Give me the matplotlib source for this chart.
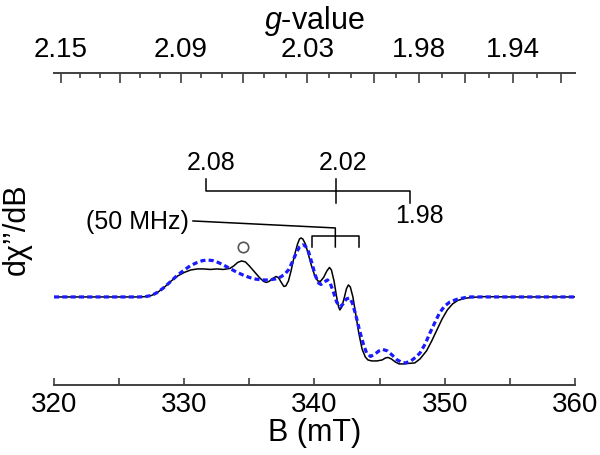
import matplotlib
matplotlib.use('Agg')
import matplotlib.pyplot as plt
from matplotlib.ticker import FixedLocator, NullFormatter

plt.rcParams['font.family'] = ['Liberation Sans', 'DejaVu Sans']
plt.rcParams['mathtext.fontset'] = 'custom'
plt.rcParams['mathtext.it'] = 'Liberation Sans:italic'
plt.rcParams['mathtext.rm'] = 'Liberation Sans'

# experimental spectrum (black) : field in mT, signal in arb. units
b_exp = [320, 323, 326, 326.5, 327, 327.5, 328, 328.5, 329, 329.5, 330, 330.5, 331,
         331.5, 332, 332.5, 333, 333.5, 333.8, 334.1, 334.4, 334.7, 335.0, 335.4, 335.8,
         336.1, 336.3, 336.5, 336.8, 337.05, 337.25, 337.45, 337.65, 337.8, 338.0, 338.2,
         338.45, 338.7, 338.85, 338.96, 339.1, 339.3, 339.5, 339.75, 340.0, 340.25, 340.45,
         340.7, 340.95, 341.15, 341.3, 341.5, 341.7, 341.85, 341.95, 342.1, 342.3, 342.45,
         342.6, 342.75, 342.95, 343.15, 343.4, 343.65, 343.9, 344.1, 344.4, 344.8, 345.2,
         345.45, 345.65, 345.9, 346.2, 346.5, 346.8, 347.2, 347.7, 348.1, 348.6, 349.0,
         349.4, 349.8, 350.2, 350.6, 351.0, 351.5, 352, 353, 355, 357, 360]
s_exp = [0, 0, 0, 0, 0.3, 1.5, 5, 10, 16, 21, 24.5, 27, 28,
         28, 27.5, 28, 27.5, 28.5, 31, 34.5, 36, 35, 31, 25, 19,
         15.5, 14.5, 15.5, 18.5, 20.5, 19, 14.5, 10.5, 11, 16, 26,
         41, 53, 58, 59, 58, 53, 44, 32, 22, 16, 15.5,
         19.5, 26, 29.5, 27, 16, 0, -10, -13, -10, 0, 8,
         12, 10, 0, -16, -36, -52, -60, -63, -64, -64, -63,
         -61, -60.5, -62, -65, -67, -67, -66.5, -66, -62, -54, -44,
         -33, -22, -13, -7, -3.5, -1.5, -0.5, 0.3, 0, 0, 0]

# simulated spectrum (blue dotted)
b_sim = [320, 323, 326, 326.5, 327, 327.5, 328, 328.5, 329, 329.5, 330, 330.5, 331,
         331.4, 331.8, 332.2, 332.6, 333.0, 333.5, 334, 334.5, 335, 335.5, 336, 336.5,
         337, 337.4, 337.7, 338.0, 338.3, 338.6, 338.85, 339.1, 339.3, 339.55, 339.8,
         340.05, 340.3, 340.5, 340.75, 341.0, 341.2, 341.45, 341.7, 341.95, 342.2, 342.45,
         342.7, 342.9, 343.15, 343.45, 343.75, 344.0, 344.3, 344.6, 344.95, 345.25, 345.6,
         345.95, 346.3, 346.7, 347.0, 347.4, 347.8, 348.1, 348.5, 348.9, 349.3, 349.6,
         350.0, 350.4, 350.9, 351.5, 352, 355, 360]
s_sim = [0, 0, 0, 0, 0.3, 1.5, 5, 10, 16, 22, 27, 31.5, 34.5,
         36.3, 37, 36.3, 34.5, 32, 28.5, 25, 22, 19.5, 17.8, 17, 17,
         18, 20, 22.5, 27, 35, 44, 50, 52, 51, 45, 34,
         22, 14, 12.5, 15, 17, 14, 5, -5, -10, -7, -2,
         -1, -6, -17, -33, -47, -56, -59.5, -57.5, -54, -52.5, -54,
         -58, -62.5, -65.5, -66, -64, -60, -56, -47, -35, -24, -16,
         -9, -5, -2.5, -0.8, 0, 0, 0]

# g-value axis
g_major = [2.15, 2.12, 2.09, 2.06, 2.03, 2.00, 1.98, 1.96, 1.94, 1.92]
g_labels = ['2.15', '', '2.09', '', '2.03', '', '1.98', '', '1.94', '']
g_minor = [2.14, 2.13, 2.11, 2.10, 2.08, 2.07, 2.05, 2.04, 2.02, 2.01, 1.99, 1.97, 1.95, 1.93]
K = 689.1   # h*nu/muB in mT

fig = plt.figure(figsize=(6, 4.55), dpi=100)
ax = fig.add_axes([0.09, 0.154, 0.8683, 0.6856])
ax.set_xlim(320, 360)
ax.set_ylim(-88, 224)

ax.plot(b_exp, s_exp, color='black', lw=1.1, zorder=3)
ax.plot(b_sim, s_sim, color='#1a1aff', lw=2.3, ls=(0, (1.6, 1.0)), zorder=4)

AX_C = '#404040'
for side in ('left', 'right', 'top'):
    ax.spines[side].set_visible(False)
ax.spines['bottom'].set_color(AX_C)
ax.spines['bottom'].set_linewidth(1.4)
ax.set_yticks([])
ax.set_xticks([320, 330, 340, 350, 360])
ax.xaxis.set_minor_locator(FixedLocator([325, 335, 345, 355]))
ax.tick_params(axis='x', which='both', direction='in', length=5, width=1.2, color=AX_C,
               labelsize=20, pad=5)
ax.set_xlabel('B (mT)', fontsize=22, labelpad=0)
ax.set_ylabel('dχ’’/dB', fontsize=22, labelpad=16)

sec = ax.secondary_xaxis('top', functions=(lambda b: K / b, lambda g: K / g))
sec.set_xticks(g_major)
sec.set_xticklabels(g_labels)
sec.xaxis.set_minor_locator(FixedLocator(g_minor))
sec.xaxis.set_minor_formatter(NullFormatter())
sec.spines['top'].set_color(AX_C)
sec.spines['top'].set_linewidth(1.4)
sec.tick_params(axis='x', which='major', direction='in', length=7, width=1.2, color=AX_C,
                labelsize=20, pad=7)
sec.tick_params(axis='x', which='minor', direction='in', length=3.5, width=1.2, color=AX_C)
sec.set_xlabel('$g$-value', fontsize=22, labelpad=6)

# g-value bracket for the three components
LC = 'black'
ax.plot([331.67, 331.67, 347.32, 347.32], [118, 106, 106, 94], color=LC, lw=1.1)
ax.plot([341.64, 341.64], [118, 94], color=LC, lw=1.1)
ax.text(332.1, 134, '2.08', ha='center', va='center', fontsize=18)
ax.text(342.2, 134, '2.02', ha='center', va='center', fontsize=18)
ax.text(348.05, 81, '1.98', ha='center', va='center', fontsize=18)

# hyperfine splitting bracket
ax.plot([330.67, 341.6, 341.6], [76, 69, 50], color=LC, lw=1.1)
ax.plot([339.8, 339.8, 343.41, 343.41], [50, 61, 61, 50], color=LC, lw=1.1)
ax.text(326.4, 75, '(50 MHz)', ha='center', va='center', fontsize=18)

# marker for impurity line
ax.plot([334.5], [50], marker='o', ms=7.5, mfc='white', mec='#555555', mew=1.2, ls='none')

fig.savefig('out.png', dpi=100)
